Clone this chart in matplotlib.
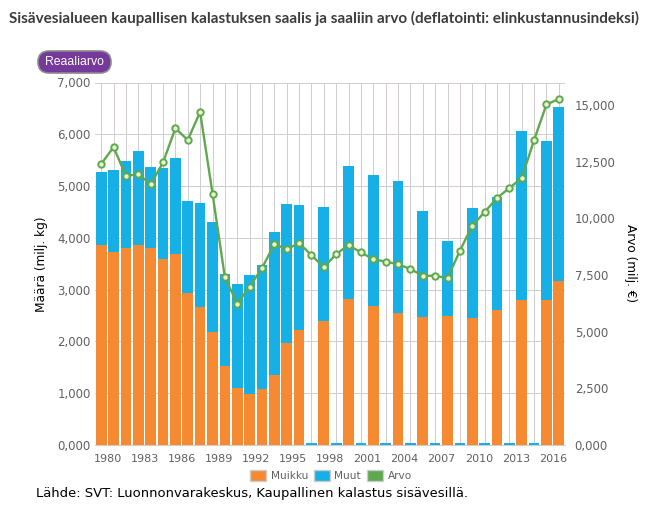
import matplotlib
matplotlib.use("Agg")
import matplotlib.pyplot as plt
from matplotlib.patches import FancyBboxPatch, Patch
from matplotlib.ticker import FuncFormatter

years = list(range(1980, 2018))
muikku = [3870, 3720, 3800, 3860, 3810, 3590, 3680, 2930, 2670, 2180, 1520, 1100, 980, 1090, 1350,
          1970, 2230, 0, 2390, 0, 2815, 0, 2680, 0, 2540, 0, 2470, 0, 2490, 0, 2460, 0, 2600, 0,
          2805, 0, 2800, 3170]
totals = [5270, 5310, 5480, 5670, 5370, 5350, 5550, 4710, 4680, 4310, 3300, 3110, 3290, 3480, 4110,
          4650, 4640, 30, 4590, 30, 5385, 30, 5220, 30, 5096, 30, 4520, 30, 3940, 30, 4580, 30,
          4790, 30, 6060, 30, 5865, 6520]
muut = [t - m for t, m in zip(totals, muikku)]
arvo = [12400, 13150, 11870, 11960, 11500, 12470, 13980, 13460, 14700, 11100, 7400, 6240, 6990, 7800,
        8870, 8640, 8910, 8380, 7840, 8430, 8820, 8500, 8200, 8090, 7980, 7770, 7470, 7470, 7360,
        8570, 9680, 10280, 10900, 11340, 11780, 13460, 15030, 15270]
left_ticks = [0, 1000, 2000, 3000, 4000, 5000, 6000, 7000]
right_ticks = [0, 2500, 5000, 7500, 10000, 12500, 15000]
title = "Sisävesialueen kaupallisen kalastuksen saalis ja saaliin arvo (deflatointi: elinkustannusindeksi)"
source = "Lähde: SVT: Luonnonvarakeskus, Kaupallinen kalastus sisävesillä."

W, H = 668, 515
fig = plt.figure(figsize=(W / 100, H / 100), dpi=100, facecolor="white")
ax = fig.add_axes([95 / W, 1 - 445 / H, 470 / W, 362.5 / H])
x = list(range(len(years)))
ORANGE, BLUE, GREEN = "#f58a33", "#17b0e6", "#5fa850"
GRID = "#cfcbcf"
TICK = "#606060"

ax.bar(x, muikku, width=0.86, color=ORANGE, zorder=3)
ax.bar(x, muut, width=0.86, bottom=muikku, color=BLUE, zorder=3)
ax.set_xlim(-0.5, 37.5)
ax.set_ylim(0, 7000)
ax.set_yticks(left_ticks)
ax.yaxis.set_major_formatter(FuncFormatter(lambda v, p: "0,000" if v == 0 else f"{int(v):,}"))
ax.set_xticks(x)
ax.set_xticklabels([])
ax.grid(True, color=GRID, lw=0.7, zorder=0)
ax.set_axisbelow(True)
for s in ax.spines.values():
    s.set_visible(False)
ax.spines["bottom"].set_visible(True)
ax.spines["bottom"].set_color(GRID)
ax.tick_params(axis="x", length=0)
ax.tick_params(axis="y", length=0, colors=TICK, labelsize=8.5, pad=3)
for i in range(0, len(years), 3):
    ax.annotate(str(years[i]), (x[i], 0), xytext=(6.5, -13.5), textcoords="offset pixels",
                ha="center", va="center", fontsize=8, color=TICK)

ax2 = ax.twinx()
ax2.set_ylim(0, 16000)
ax2.set_yticks(right_ticks)
ax2.yaxis.set_major_formatter(FuncFormatter(lambda v, p: "0,000" if v == 0 else f"{int(v):,}"))
ax2.tick_params(axis="y", length=0, colors=TICK, labelsize=8.5, pad=7)
for s in ax2.spines.values():
    s.set_visible(False)
ax2.plot(x, arvo, color=GREEN, lw=1.7, marker="o", ms=4.6, mfc="#e8f5d0", mec=GREEN, mew=1.4, zorder=5)

fig.text(42 / W, 1 - 264 / H, "Määrä (milj. kg)", rotation=90, ha="center", va="center", fontsize=8.7, color="black")
fig.text(630 / W, 1 - 263.5 / H, "Arvo (milj. €)", rotation=270, ha="center", va="center", fontsize=8.7, color="black")
fig.text(9 / W, 1 - 18 / H, title, ha="left", va="center", fontsize=11, fontweight="bold",
         family="Lato", color="#3c3c3c")
fig.text(36 / W, 1 - 494 / H, source, ha="left", va="center", fontsize=9.45, color="black")

btn = FancyBboxPatch((38, H - 73), 73, 22, boxstyle="round,pad=0,rounding_size=11", transform=None,
                     fc="#74399a", ec="#8a8a8a", lw=1.2)
fig.add_artist(btn)
fig.text(74.5 / W, 1 - 62 / H, "Reaaliarvo", ha="center", va="center", fontsize=8.8,
         color="white", family="Liberation Sans")

handles = [Patch(fc=ORANGE, ec="#cccccc", label="Muikku"), Patch(fc=BLUE, ec="#cccccc", label="Muut"),
           Patch(fc=GREEN, ec="#cccccc", label="Arvo")]
fig.legend(handles=handles, loc="center", bbox_to_anchor=(331 / W, 1 - 475.5 / H), ncol=3, frameon=False,
           fontsize=7.6, labelcolor=TICK, handlelength=1.5, handleheight=1.3, handletextpad=0.45, columnspacing=0.55)
fig.savefig("out.png", dpi=100)
